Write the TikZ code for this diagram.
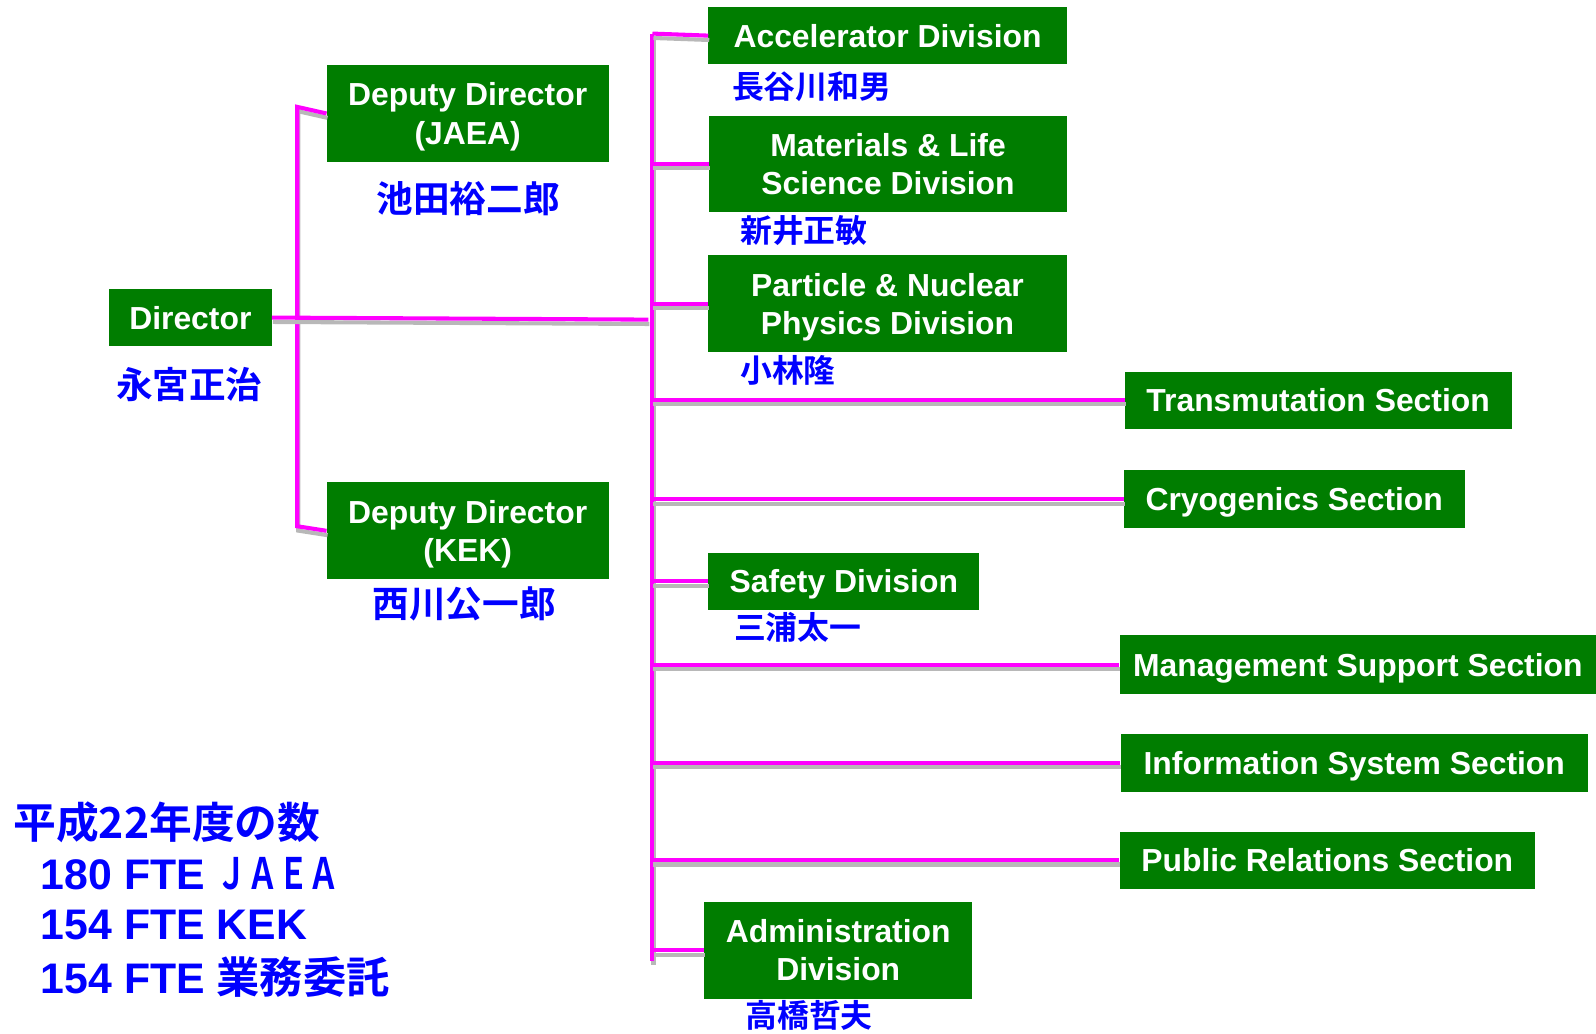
\documentclass[tikz,border=0pt]{standalone}
\usepackage{fontspec}
\setmainfont{Liberation Sans}
\newfontfamily\cjk{Noto Sans CJK JP}[BoldFont={Noto Sans CJK JP Bold}]
\definecolor{boxgreen}{RGB}{0,125,0}
\definecolor{lineMag}{RGB}{255,0,255}
\definecolor{nameblue}{RGB}{0,0,255}
\begin{document}
\begin{tikzpicture}[x=1pt,y=-1pt,
  box/.style={fill=boxgreen, text=white, inner sep=0pt, align=center,
    font=\fontsize{31.3}{37.5}\selectfont\bfseries},
  boxone/.style={box, text height=23pt, text depth=0pt},
  boxtwo/.style={box, text height=60pt, text depth=0pt},
  nm/.style={text=nameblue, inner sep=0pt, font=\cjk\fontsize{31.3}{31}\selectfont\bfseries},
  nmbig/.style={nm, font=\cjk\fontsize{36}{36}\selectfont\bfseries},
  stat/.style={text=nameblue, inner sep=0pt, anchor=west, font=\fontsize{42}{42}\selectfont\bfseries},
  conn/.style={draw=lineMag, line width=4pt,
    preaction={draw=black!28, line width=4pt, transform canvas={shift={(1pt,-4.3pt)}}}}]
\useasboundingbox (0,0) rectangle (1568,1015);

% boxes
\node[boxone, minimum width=160pt, minimum height=56pt] (dir) at (187,312) {Director};
\node[boxtwo, minimum width=277pt, minimum height=95pt] (jaea) at (459.5,111.5) {Deputy Director\\(JAEA)};
\node[boxtwo, minimum width=277pt, minimum height=95pt] (kek) at (459.5,521.5) {Deputy Director\\(KEK)};
\node[boxone, minimum width=352pt, minimum height=56pt] (acc) at (872,35) {Accelerator Division};
\node[boxtwo, minimum width=351pt, minimum height=94pt] (mlf) at (872.5,161) {Materials \& Life\\Science Division};
\node[boxtwo, minimum width=352pt, minimum height=95pt] (pnp) at (872,298.5) {Particle \& Nuclear\\Physics Division};
\node[boxone, minimum width=380pt, minimum height=56pt] (trans) at (1295,393) {Transmutation Section};
\node[boxone, minimum width=335pt, minimum height=57pt] (cryo) at (1271.5,490.5) {Cryogenics Section};
\node[boxone, minimum width=266pt, minimum height=56pt] (safe) at (829,571) {Safety Division};
\node[boxone, minimum width=468pt, minimum height=58pt] (mgmt) at (1334,653) {Management Support Section};
\node[boxone, minimum width=459pt, minimum height=57pt] (info) at (1330.5,749.5) {Information System Section};
\node[boxone, minimum width=408pt, minimum height=56pt] (pub) at (1304,845) {Public Relations Section};
\node[boxtwo, minimum width=263pt, minimum height=95pt] (adm) at (823.5,933.5) {Administration\\Division};

% names
\node[nmbig] (n-dir) at (186,378) {永宮正治};
\node[nmbig] (n-jaea) at (460,195) {池田裕二郎};
\node[nmbig] (n-kek) at (456,593) {西川公一郎};
\node[nm, anchor=west] (n-acc) at (719,85) {長谷川和男};
\node[nm, anchor=west] (n-mlf) at (727,226) {新井正敏};
\node[nm, anchor=west] (n-pnp) at (727,364) {小林隆};
\node[nm, anchor=west] (n-safe) at (721,616) {三浦太一};
\node[nm, anchor=west] (n-adm) at (732,998) {高橋哲夫};

% statistics
\node[stat, font=\cjk\fontsize{42}{42}\selectfont\bfseries] (s0) at (13,808) {平成22年度の数};
\node[stat] (s1) at (40,858) {180 FTE {\cjk\bfseries\fontsize{42.5}{42}\selectfont\scalebox{0.71}[1]{ＪＡＥＡ}}};
\node[stat] (s2) at (40,909) {154 FTE KEK};
\node[stat] (s3) at (40,960) {154 FTE {\cjk\bfseries\fontsize{42.5}{42}\selectfont 業務委託}};

% junction coordinates
\coordinate (bl-top) at (292,105);
\coordinate (bl-bot) at (292,517);
\coordinate (dj) at (637,314);
\coordinate (bus-top) at (641,33);
\coordinate (bus-bot) at (641,944);

% connectors
\draw[conn] (jaea.west) -- (bl-top) -- (bl-bot) -- (kek.west);
\draw[conn] (dir.east) -- (dj);
\draw[conn] (bus-top) -- (bus-bot);
\draw[conn] (bus-top) -- (acc.west);
\draw[conn] (mlf.west -| bus-top) -- (mlf.west);
\draw[conn] (pnp.west -| bus-top) -- (pnp.west);
\draw[conn] (trans.west -| bus-top) -- (trans.west);
\draw[conn] (cryo.west -| bus-top) -- (cryo.west);
\draw[conn] (safe.west -| bus-top) -- (safe.west);
\draw[conn] (mgmt.west -| bus-top) -- (mgmt.west);
\draw[conn] (info.west -| bus-top) -- (info.west);
\draw[conn] (pub.west -| bus-top) -- (pub.west);
\draw[conn] (bus-bot) -- (adm.west -| bus-bot) -- (adm.west);
\end{tikzpicture}
\end{document}
